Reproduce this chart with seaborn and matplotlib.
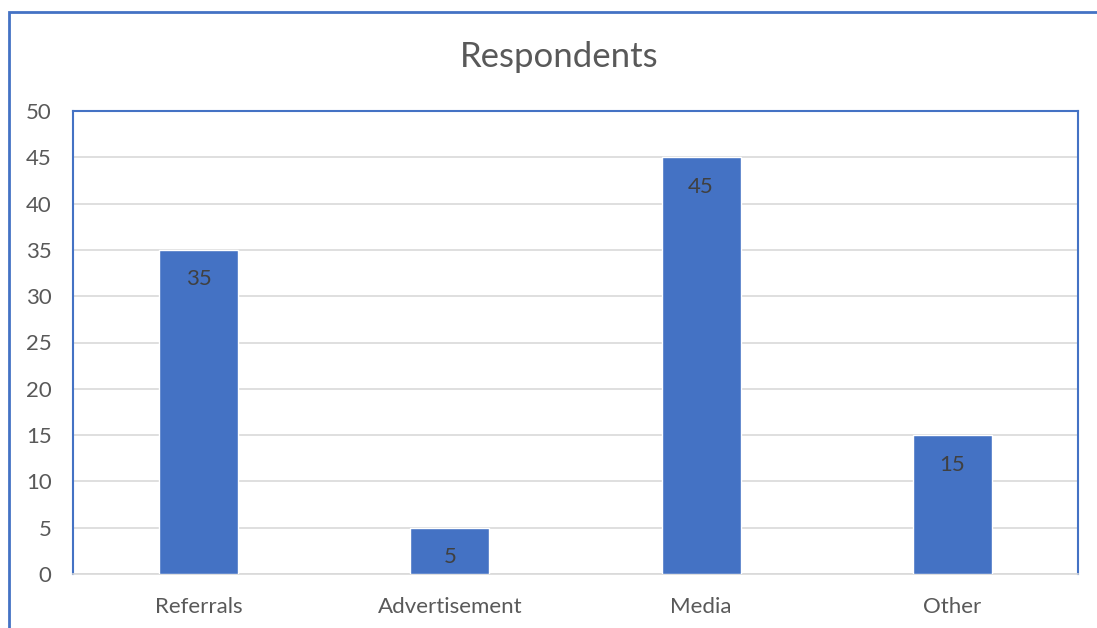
import matplotlib
matplotlib.use("Agg")
import matplotlib.pyplot as plt
from matplotlib.patches import Rectangle
import seaborn as sns
import pandas as pd

categories = ["Referrals", "Advertisement", "Media", "Other"]
respondents = [35, 5, 45, 15]
y_ticks = [0, 5, 10, 15, 20, 25, 30, 35, 40, 45, 50]

sns.set_theme(style="white")
plt.rcParams["font.family"] = ["Lato", "DejaVu Sans"]

W, H = 1097, 628
fig = plt.figure(figsize=(W / 100, H / 100), dpi=100)
fig.patch.set_facecolor("white")

left, right, top, bottom = 73, 1078, 111, 574
ax = fig.add_axes([left / W, 1 - bottom / H, (right - left) / W, (bottom - top) / H])

df = pd.DataFrame({"category": categories, "value": respondents})
sns.barplot(data=df, x="category", y="value", color="#4472C4", saturation=1,
            width=0.315, ax=ax, zorder=3)

ax.set_ylim(0, 50)
ax.set_yticks(y_ticks)
ax.set_yticklabels([str(t) for t in y_ticks])
ax.set_xlabel("")
ax.set_ylabel("")
ax.yaxis.grid(True, color="#D9D9D9", linewidth=1.2, zorder=0)
ax.set_axisbelow(True)
ax.tick_params(axis="both", length=0, labelsize=16, labelcolor="#595959")
ax.tick_params(axis="y", pad=15.5)
ax.tick_params(axis="x", pad=16.5)
for s in ["left", "top", "right"]:
    ax.spines[s].set_color("#4472C4")
    ax.spines[s].set_linewidth(1.5)
ax.spines["bottom"].set_color("#D9D9D9")
ax.spines["bottom"].set_linewidth(1.2)

for container in ax.containers:
    ax.bar_label(container, labels=[str(v) for v in respondents], padding=-28.5,
                 fontsize=16, color="#404040")

fig.text(559 / W, 1 - 57 / H, "Respondents", ha="center", va="center",
         fontsize=25, color="#595959")

fig.patches.append(Rectangle((9 / W, -0.1), 1.2, 1 - 12 / H + 0.1,
                             transform=fig.transFigure, fill=False,
                             edgecolor="#4472C4", linewidth=2, zorder=10))

fig.savefig("out.png", dpi=100, facecolor="white")
